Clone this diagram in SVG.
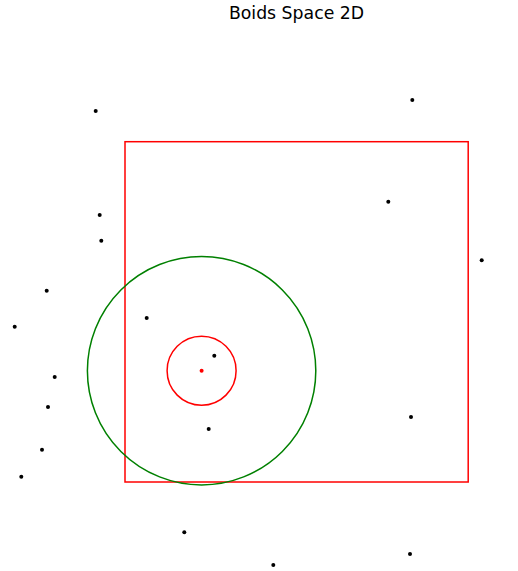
<svg xmlns="http://www.w3.org/2000/svg" width="518" height="571" viewBox="0 0 518 571">
<style>
.boid{fill:#000}
.shape{fill:none;stroke-width:1.5}
.title{font-family:"DejaVu Sans",sans-serif;font-size:17.3px;fill:#000}
</style>
<rect width="518" height="571" fill="#fff"/>
<text class="title" x="296.5" y="19" text-anchor="middle">Boids Space 2D</text>
<g id="range">
<rect class="shape" x="125" y="141.7" width="343.2" height="340.3" stroke="#ff0000"/>
</g>
<g id="perception">
<circle class="shape" cx="201.6" cy="370.7" r="114.2" stroke="#008000"/>
</g>
<g id="separation">
<circle class="shape" cx="201.6" cy="370.7" r="34.5" stroke="#ff0000"/>
</g>
<g id="focus">
<circle cx="201.6" cy="370.7" r="2" fill="#ff0000"/>
</g>
<g id="boids">
<circle class="boid" cx="95.7" cy="111" r="2"/>
<circle class="boid" cx="412.3" cy="100" r="2"/>
<circle class="boid" cx="99.7" cy="215" r="2"/>
<circle class="boid" cx="101.3" cy="240.7" r="2"/>
<circle class="boid" cx="388.3" cy="201.7" r="2"/>
<circle class="boid" cx="481.7" cy="260.3" r="2"/>
<circle class="boid" cx="46.7" cy="290.7" r="2"/>
<circle class="boid" cx="14.7" cy="326.7" r="2"/>
<circle class="boid" cx="146.7" cy="318" r="2"/>
<circle class="boid" cx="214.3" cy="355.7" r="2"/>
<circle class="boid" cx="54.7" cy="377" r="2"/>
<circle class="boid" cx="48" cy="407" r="2"/>
<circle class="boid" cx="208.7" cy="429" r="2"/>
<circle class="boid" cx="411" cy="417" r="2"/>
<circle class="boid" cx="42" cy="449.7" r="2"/>
<circle class="boid" cx="21.3" cy="476.7" r="2"/>
<circle class="boid" cx="184.3" cy="532.3" r="2"/>
<circle class="boid" cx="273.3" cy="565" r="2"/>
<circle class="boid" cx="410" cy="554" r="2"/>
</g>
</svg>
